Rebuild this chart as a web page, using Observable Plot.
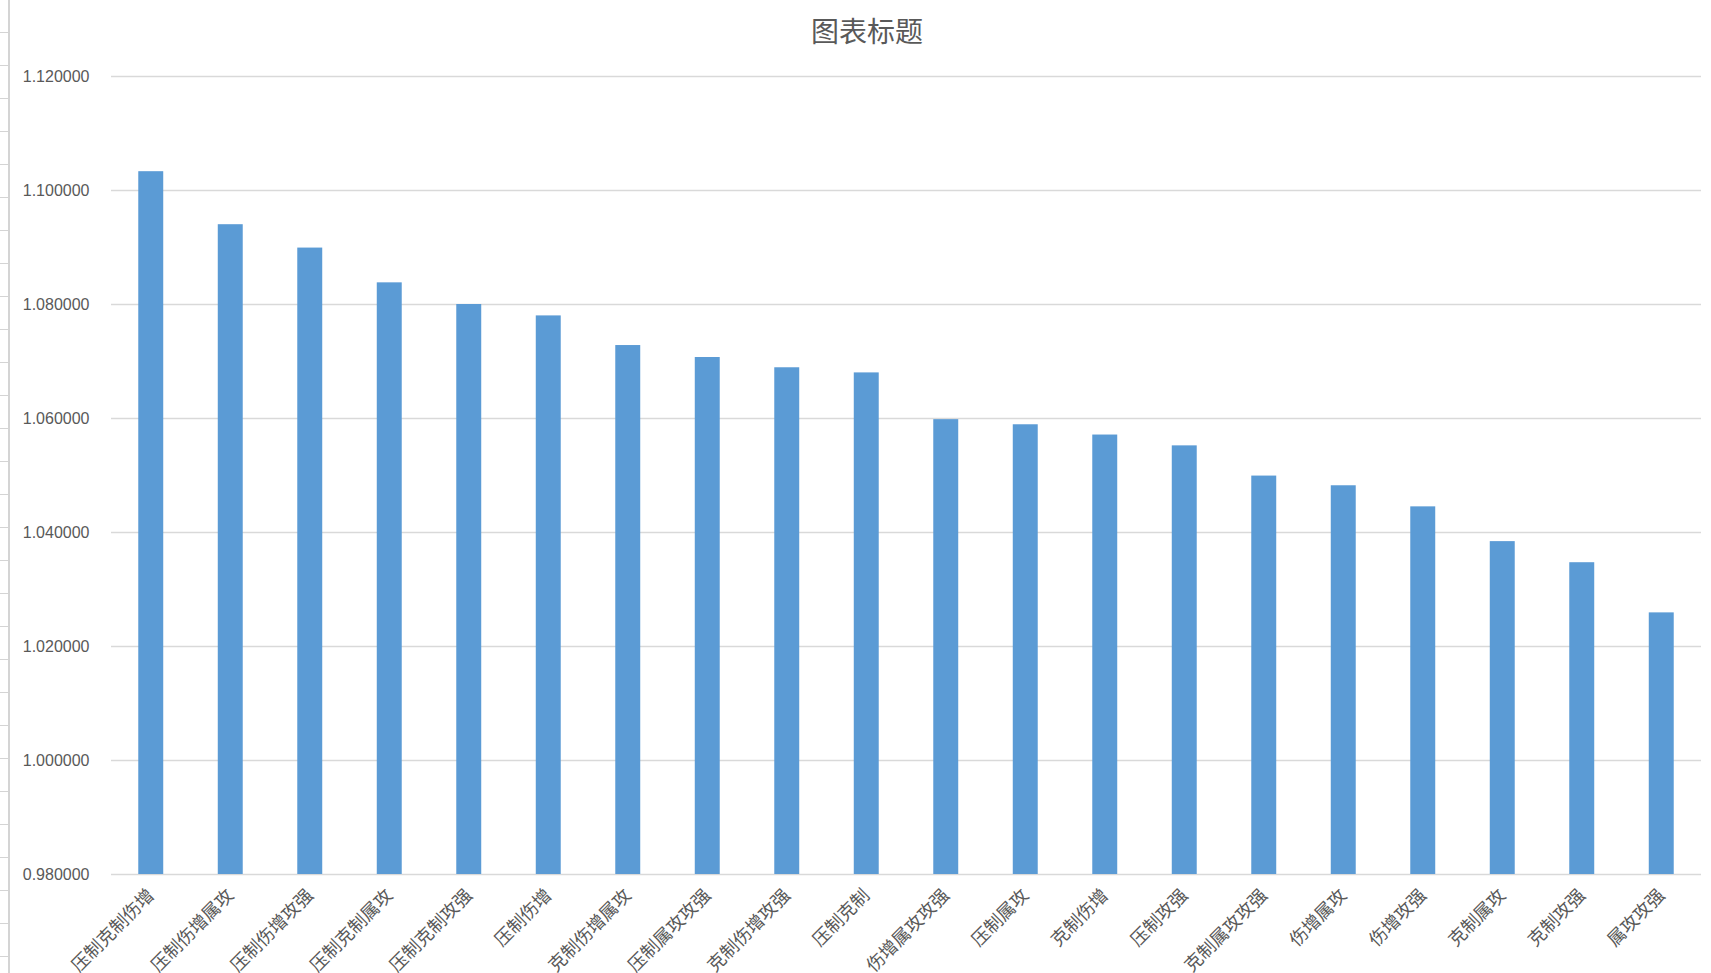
<!DOCTYPE html>
<html>
<head>
<meta charset="utf-8">
<script src="https://cdn.jsdelivr.net/npm/d3@7"></script>
<script src="https://cdn.jsdelivr.net/npm/@observablehq/plot@0.6"></script>
<style>
  html, body { margin: 0; padding: 0; background: #fff; }
  #wrap { position: relative; width: 1711px; height: 973px; overflow: hidden; }
  #rows { position: absolute; left: 0; top: 0; width: 8px; height: 973px;
          border-right: 2px solid #d4d4d4;
          background: repeating-linear-gradient(to bottom, transparent 0px, transparent 32px, #d4d4d4 32px, #d4d4d4 33px, transparent 33px, transparent 28px); }
  #title { position: absolute; left: 0; top: 10px; width: 1734px; text-align: center;
           font-family: "Noto Sans CJK SC", sans-serif; font-size: 28px; color: #595959; }
  #chart { position: absolute; left: 0; top: 0; }
</style>
</head>
<body>
<div id="wrap">
  <div id="rows"></div>
  <div id="chart"></div>
  <div id="title">图表标题</div>
</div>
<script>
const categories = ["压制克制伤增","压制伤增属攻","压制伤增攻强","压制克制属攻","压制克制攻强","压制伤增","克制伤增属攻","压制属攻攻强","克制伤增攻强","压制克制","伤增属攻攻强","压制属攻","克制伤增","压制攻强","克制属攻攻强","伤增属攻","伤增攻强","克制属攻","克制攻强","属攻攻强"];
const values = [1.1033,1.0940,1.0899,1.0838,1.0800,1.0780,1.0728,1.0707,1.0689,1.0680,1.0598,1.0589,1.0571,1.0552,1.0499,1.0482,1.0445,1.0384,1.0347,1.0259];
const yTicks = [0.98,1.00,1.02,1.04,1.06,1.08,1.10,1.12];

const data = categories.map((c, i) => ({name: c, value: values[i]}));
const yMin = yTicks[0];

const chart = Plot.plot({
  width: 1711,
  height: 973,
  marginLeft: 111,
  marginRight: 10,
  marginTop: 76,
  marginBottom: 99,
  style: {background: "transparent", color: "#595959"},
  x: {domain: categories, padding: 0.686, paddingOuter: 0.343, round: false, label: null},
  y: {domain: [yTicks[0], yTicks[yTicks.length - 1]], ticks: yTicks, label: null},
  marks: [
    Plot.gridY(yTicks, {stroke: "#d9d9d9", strokeOpacity: 1, strokeWidth: 1.6}),
    Plot.barY(data, {x: "name", y1: () => yMin, y2: "value", fill: "#5b9bd5", insetLeft: 0, insetRight: 0}),
    Plot.axisY(yTicks, {tickSize: 0, tickPadding: 22, tickFormat: d3.format(".6f"),
      fontSize: 16, fontFamily: "Liberation Sans, Arial, sans-serif", fill: "#595959", label: null}),
    Plot.axisX({tickSize: 0, tickPadding: 18, tickRotate: -45, fontSize: 18,
      fontFamily: "Noto Sans CJK SC, sans-serif", fill: "#595959", label: null})
  ]
});
document.getElementById("chart").appendChild(chart);
</script>
</body>
</html>
